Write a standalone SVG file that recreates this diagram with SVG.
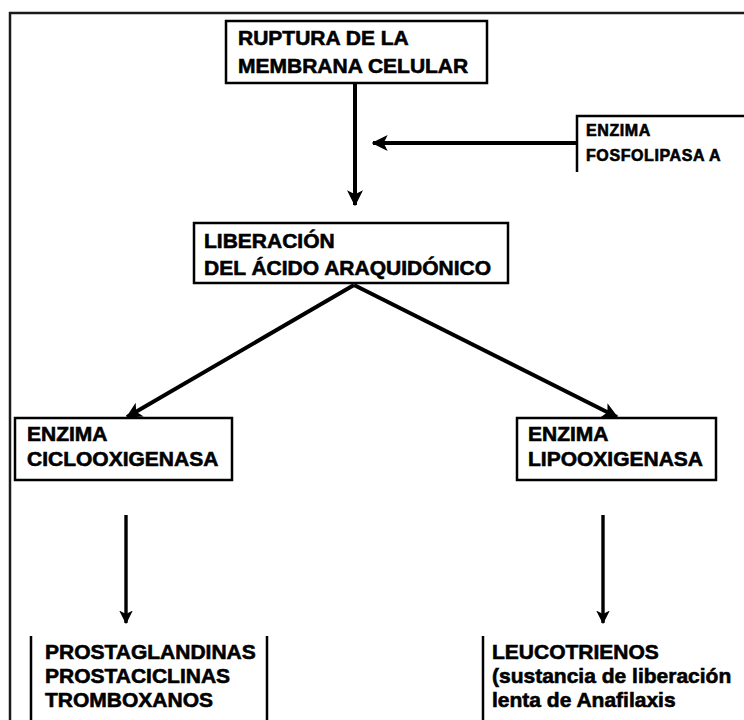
<svg xmlns="http://www.w3.org/2000/svg" width="744" height="720" viewBox="0 0 744 720">
  <style>
    .box { fill: #ffffff; stroke: #000000; stroke-width: 2.5; }
    .edge { fill: none; stroke: #000000; stroke-width: 2.5; }
    .frame { fill: none; stroke: #1a1a1a; stroke-width: 2.5; }
    .lbl { font-family: "Liberation Sans", Arial, sans-serif; font-weight: bold; font-size: 21px; fill: #000000; stroke: #000000; stroke-width: 0.6; }
    .small { font-size: 16px; letter-spacing: 0.6px; }
    .wire { fill: none; stroke: #000000; stroke-width: 4; marker-end: url(#head); }
    .wire-thin { fill: none; stroke: #000000; stroke-width: 3.4; marker-end: url(#head); }
  </style>
  <defs>
    <marker id="head" viewBox="0 0 12 12" refX="11" refY="6" markerWidth="4" markerHeight="4" orient="auto" markerUnits="strokeWidth">
      <path d="M0,0 L12,6 L0,12 L3,6 Z" fill="#000000"/>
    </marker>
  </defs>

  <rect width="744" height="720" fill="#ffffff"/>

  <!-- outer frame: top and left rules only -->
  <g id="frame">
    <path class="frame" d="M10,720 V13 H744"/>
  </g>

  <g id="ruptura">
    <rect class="box" x="226" y="21" width="261" height="62"/>
    <text class="lbl" x="238" y="45">RUPTURA DE LA</text>
    <text class="lbl" x="238" y="73">MEMBRANA CELULAR</text>
  </g>

  <g id="fosfolipasa">
    <path class="edge" d="M577,172 V116 H744"/>
    <text class="lbl small" x="586" y="136">ENZIMA</text>
    <text class="lbl small" x="586" y="161">FOSFOLIPASA A</text>
  </g>

  <g id="liberacion">
    <rect class="box" x="194" y="223" width="314" height="60"/>
    <text class="lbl" x="204" y="248">LIBERACIÓN</text>
    <text class="lbl" x="204" y="275">DEL ÁCIDO ARAQUIDÓNICO</text>
  </g>

  <g id="ciclooxigenasa">
    <rect class="box" x="15" y="418" width="217" height="62"/>
    <text class="lbl" x="27" y="441">ENZIMA</text>
    <text class="lbl" x="27" y="466">CICLOOXIGENASA</text>
  </g>

  <g id="lipooxigenasa">
    <rect class="box" x="517" y="418" width="199" height="62"/>
    <text class="lbl" x="528" y="441">ENZIMA</text>
    <text class="lbl" x="528" y="466">LIPOOXIGENASA</text>
  </g>

  <g id="prostaglandinas">
    <path class="edge" d="M31,636 V720 M267,636 V720"/>
    <text class="lbl" x="45" y="659">PROSTAGLANDINAS</text>
    <text class="lbl" x="45" y="683">PROSTACICLINAS</text>
    <text class="lbl" x="45" y="707">TROMBOXANOS</text>
  </g>

  <g id="leucotrienos">
    <path class="edge" d="M483,636 V720"/>
    <text class="lbl" x="492" y="659">LEUCOTRIENOS</text>
    <text class="lbl" x="492" y="683">(sustancia de liberación</text>
    <text class="lbl" x="492" y="707">lenta de Anafilaxis</text>
  </g>

  <g id="connectors">
    <line class="wire" x1="355" y1="83" x2="355" y2="205"/>
    <line class="wire" x1="577" y1="143" x2="373" y2="143"/>
    <line class="wire" x1="354" y1="285" x2="127" y2="417"/>
    <line class="wire" x1="354" y1="285" x2="617" y2="417"/>
    <line class="wire-thin" x1="126" y1="515" x2="126" y2="623"/>
    <line class="wire-thin" x1="603" y1="515" x2="603" y2="623"/>
  </g>
</svg>
